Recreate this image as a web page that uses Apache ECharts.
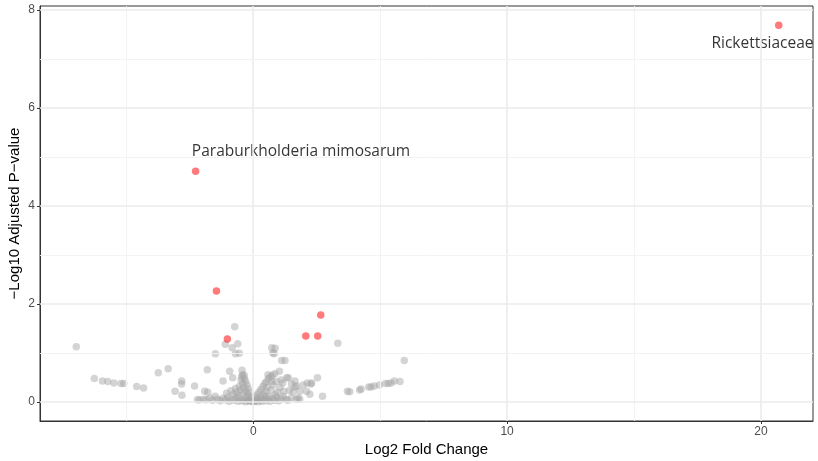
<!DOCTYPE html>
<html>
<head>
<meta charset="utf-8">
<script src="https://cdn.jsdelivr.net/npm/echarts@6/dist/echarts.min.js"></script>
<style>
html,body{margin:0;padding:0;background:#fff;}
#chart{width:818px;height:461px;}
</style>
</head>
<body>
<div id="chart"></div>
<script>
// Tick values
const xMajorTicks = [0, 10, 20];
const xMinorTicks = [-5, 5, 15];
const yMajorTicks = [0, 2, 4, 6, 8];
const yMinorTicks = [1, 3, 5, 7];

// Non-significant taxa (grey)
const greyLFC = [
  -6.97,-6.26,-5.94,-5.73,-5.49,-5.21,-5.10,-4.59,-4.32,-3.74,-3.35,-2.82,-2.82,-3.08,-2.81,-2.31,-2.20,-2.12,
  -1.91,-1.79,-1.81,-1.49,-1.19,-1.10,-0.93,-0.83,-0.81,-0.73,-0.70,-0.61,-0.55,-0.44,-0.42,
  0.73,0.86,0.77,0.82,1.12,1.25,1.03,1.38,1.32,1.16,1.51,1.64,1.64,1.71,1.84,1.77,1.97,2.13,2.30,2.10,2.23,
  1.42,1.57,1.27,1.70,1.83,2.53,2.27,2.73,3.33,
  3.71,3.80,4.19,4.25,4.55,4.64,4.77,4.97,5.21,5.32,5.43,5.56,5.78,5.95,
  -1.95,-1.85,-1.70,-1.60,-1.50,-1.40,-1.30,-1.20,-1.10,-1.00,-0.95,-0.85,-0.75,-0.68,-0.60,-0.52,-0.45,-0.38,
  -0.30,-0.22,-0.15,-0.08,0.00,0.06,0.12,0.20,0.28,0.35,0.42,0.50,0.58,0.66,0.75,0.84,0.92,1.00,1.10,1.18,1.36,1.50,
  -0.10,-0.15,-0.20,-0.25,-0.30,-0.35,-0.38,-0.42,-0.48,-0.30,-0.22,-0.40,-0.50,-0.55,-0.58,-0.65,-0.70,-0.78,
  -0.88,-1.05,-0.36,-0.46,-0.28,-0.16,
  0.08,0.15,0.22,0.30,0.38,0.45,0.52,0.60,0.68,0.75,0.85,0.40,0.50,0.55,0.62,0.70,0.78,0.90,0.95,1.05,1.10,
  0.30,0.18,0.48,0.88,1.20,0.72,0.58
];
const greyNegLogP = [
  1.13,0.48,0.43,0.42,0.39,0.38,0.38,0.32,0.29,0.60,0.68,0.43,0.37,0.22,0.14,0.33,0.05,0.05,
  0.22,0.20,0.66,0.99,0.43,1.18,0.63,1.11,0.50,1.54,0.99,1.19,1.00,0.65,0.56,
  1.11,1.10,1.01,0.99,0.85,0.85,0.63,0.50,0.50,0.39,0.37,0.31,0.43,0.33,0.22,0.09,0.35,0.39,0.39,0.22,0.16,
  0.24,0.21,0.06,0.06,0.06,0.50,0.37,0.12,1.20,
  0.22,0.21,0.25,0.27,0.31,0.31,0.33,0.35,0.38,0.38,0.39,0.43,0.42,0.85,
  0.06,0.05,0.08,0.04,0.12,0.06,0.03,0.08,0.05,0.10,0.02,0.06,0.04,0.10,0.02,0.07,0.03,0.05,
  0.01,0.04,0.02,0.03,0.01,0.02,0.04,0.01,0.05,0.02,0.07,0.03,0.06,0.02,0.08,0.04,0.10,0.03,0.07,0.12,0.04,0.09,
  0.12,0.20,0.28,0.35,0.42,0.48,0.30,0.38,0.45,0.22,0.15,0.18,0.25,0.32,0.14,0.20,0.28,0.16,
  0.23,0.18,0.55,0.52,0.10,0.08,
  0.10,0.15,0.20,0.26,0.32,0.38,0.42,0.48,0.52,0.55,0.58,0.16,0.22,0.30,0.12,0.25,0.35,0.42,0.20,0.30,0.45,
  0.10,0.06,0.12,0.15,0.22,0.42,0.56
];

// Significant taxa (red)
const sigLFC = [20.70, -2.27, -1.45, -1.02, 2.66, 2.07, 2.54];
const sigNegLogP = [7.69, 4.71, 2.27, 1.29, 1.78, 1.35, 1.35];
const sigNames = ['Rickettsiaceae', 'Paraburkholderia mimosarum', '', '', '', '', ''];

const greyData = greyLFC.map((x, i) => [x, greyNegLogP[i]]);
const sigData = sigLFC.map((x, i) => {
  const item = { value: [x, sigNegLogP[i]], name: sigNames[i] };
  if (sigNames[i] === 'Rickettsiaceae') {
    item.label = { show: true, position: [-12.5, 21.5], align: 'center', verticalAlign: 'middle' };
  } else if (sigNames[i]) {
    item.label = { show: true, position: [0, -16.5], align: 'left', verticalAlign: 'middle' };
  }
  return item;
});

const gridLines = [];
xMajorTicks.forEach(v => gridLines.push({ xAxis: v, lineStyle: { color: '#EBEBEB', width: 1.6, type: 'solid' } }));
xMinorTicks.forEach(v => gridLines.push({ xAxis: v, lineStyle: { color: '#F2F2F2', width: 0.9, type: 'solid' } }));
yMajorTicks.forEach(v => gridLines.push({ yAxis: v, lineStyle: { color: '#EBEBEB', width: 1.6, type: 'solid' } }));
yMinorTicks.forEach(v => gridLines.push({ yAxis: v, lineStyle: { color: '#F2F2F2', width: 0.9, type: 'solid' } }));

const chart = echarts.init(document.getElementById('chart'), null, { renderer: 'canvas' });
chart.setOption({
  animation: false,
  backgroundColor: '#ffffff',
  grid: {
    left: 40, right: 5, top: 6, bottom: 40,
    outerBoundsMode: 'none', containLabel: false,
    show: true, borderColor: '#333333', borderWidth: 1, backgroundColor: 'transparent'
  },
  xAxis: {
    type: 'value', min: -8.4, max: 22.05,
    name: 'Log2 Fold Change', nameLocation: 'middle', nameGap: 21, nameMoveOverlap: false,
    nameTextStyle: { color: '#000', fontSize: 15, fontFamily: 'Liberation Sans' },
    axisLine: { show: true, onZero: false, lineStyle: { color: '#333333', width: 1 } },
    axisTick: { show: true, length: 3, lineStyle: { color: '#333333' }, customValues: xMajorTicks },
    axisLabel: { color: '#4D4D4D', fontSize: 12, fontFamily: 'Liberation Sans', margin: 5, customValues: xMajorTicks },
    splitLine: { show: false }
  },
  yAxis: {
    type: 'value', min: -0.385, max: 8.085,
    name: '\u2212Log10 Adjusted P\u2212value', nameLocation: 'middle', nameGap: 18, nameMoveOverlap: false,
    nameTextStyle: { color: '#000', fontSize: 15, fontFamily: 'Liberation Sans' },
    axisLine: { show: true, onZero: false, lineStyle: { color: '#333333', width: 1 } },
    axisTick: { show: true, length: 3, lineStyle: { color: '#333333' }, customValues: yMajorTicks },
    axisLabel: { color: '#4D4D4D', fontSize: 12, fontFamily: 'Liberation Sans', margin: 5, customValues: yMajorTicks },
    splitLine: { show: false }
  },
  series: [
    {
      type: 'line', data: [], z: 1, silent: true,
      markLine: { silent: true, symbol: ['none', 'none'], label: { show: false }, animation: false, data: gridLines }
    },
    {
      type: 'scatter', data: greyData, z: 3, symbolSize: 7.5,
      itemStyle: { color: 'rgba(165,165,165,0.6)' }
    },
    {
      type: 'scatter', data: sigData, z: 4, symbolSize: 7.5,
      itemStyle: { color: 'rgba(255,0,0,0.65)' },
      label: {
        show: false,
        formatter: p => p.name,
        color: '#000', fontSize: 15.5, fontFamily: 'Open Sans'
      }
    }
  ]
});
</script>
</body>
</html>
